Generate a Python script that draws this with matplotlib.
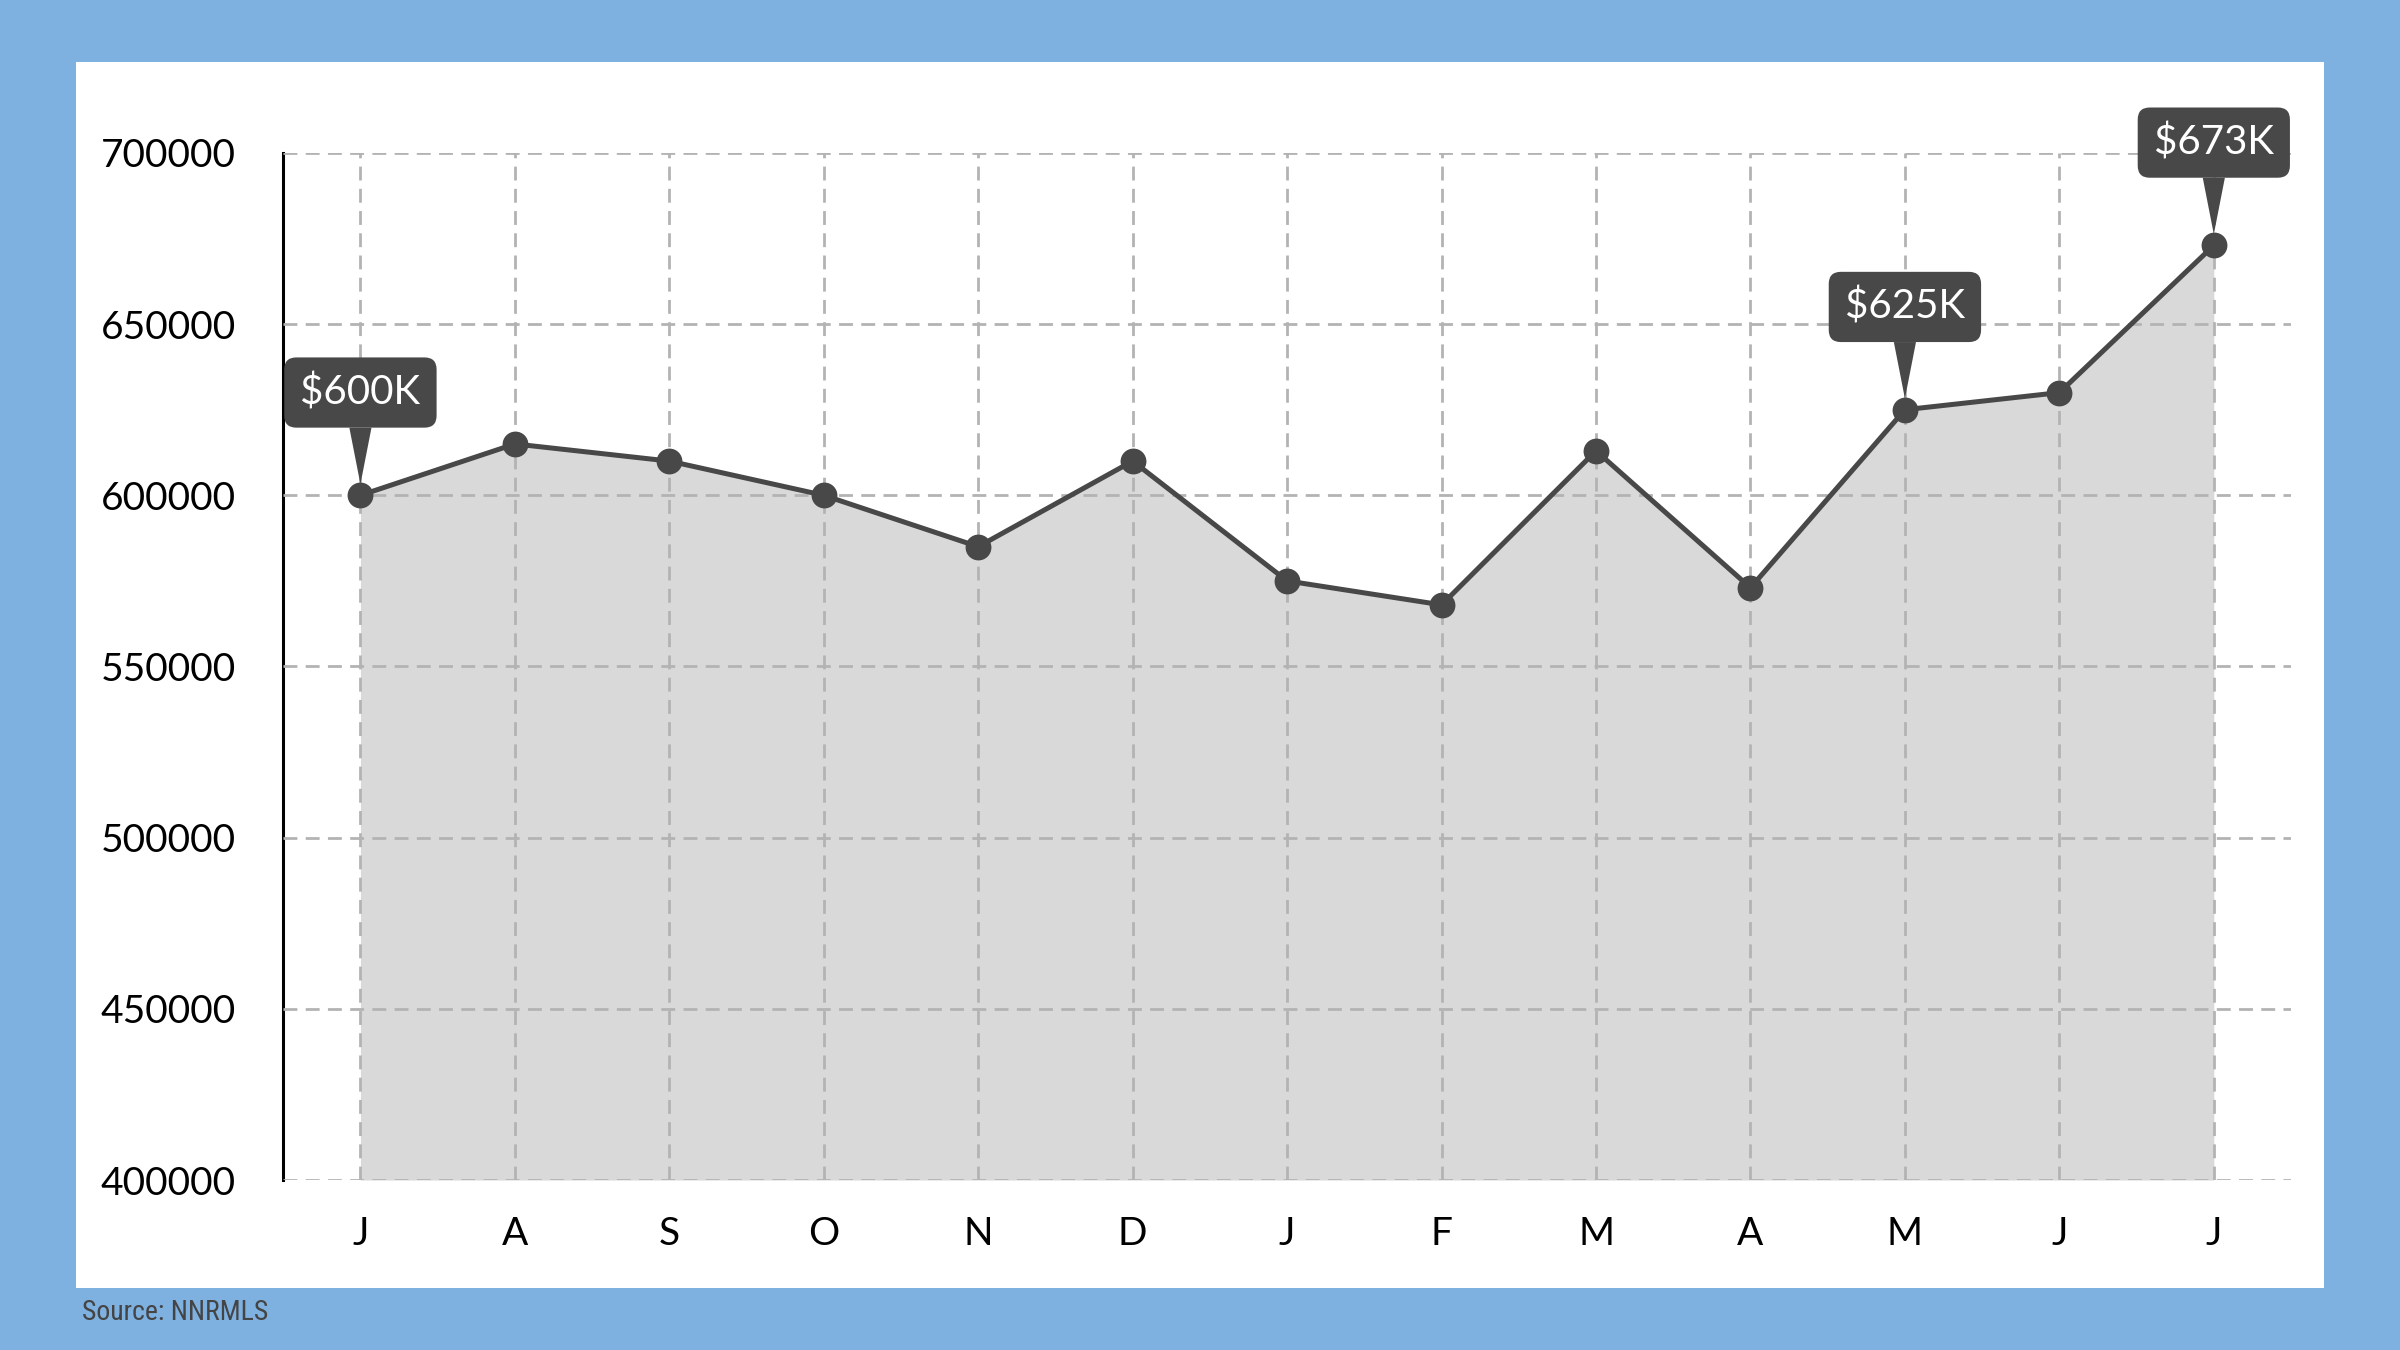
import matplotlib.pyplot as plt
from matplotlib.patches import Rectangle

months = ["J", "A", "S", "O", "N", "D", "J", "F", "M", "A", "M", "J", "J"]
prices = [600000, 615000, 610000, 600000, 585000, 610000, 575000,
          568000, 613000, 573000, 625000, 630000, 673000]
labels = {0: "$600K", 10: "$625K", 12: "$673K"}
yticks = [400000, 450000, 500000, 550000, 600000, 650000, 700000]

dark = "#484848"
plt.rcParams['font.family'] = ['Lato', 'DejaVu Sans']

fig = plt.figure(figsize=(12, 6.75), dpi=200)
fig.patch.set_facecolor("#7eb0e0")
fig.patches.append(Rectangle((0.0317, 0.0459), 0.9365, 0.9081, transform=fig.transFigure,
                             facecolor="white", edgecolor="none", zorder=-5))

ax = fig.add_axes([0.118, 0.1259, 0.8366, 0.7608])
ax.set_facecolor("none")
x = range(len(prices))

ax.fill_between(x, 400000, prices, color="#d9d9d9", lw=0, zorder=1)
ax.plot(x, prices, color=dark, lw=1.8, marker="o", ms=8.3, zorder=3)

ax.set_xlim(-0.5, 12.5)
ax.set_ylim(400000, 700000)
ax.set_yticks(yticks)
ax.set_xticks(list(x))
ax.set_xticklabels(months)
ax.tick_params(length=0, labelsize=14, colors="black")
ax.tick_params(axis="y", pad=17)
ax.tick_params(axis="x", pad=13)

ax.set_axisbelow(False)
ax.grid(True, color="#b3b3b3", lw=1, dashes=(5, 3))
for s in ["top", "right", "bottom"]:
    ax.spines[s].set_visible(False)
ax.spines["left"].set_color("black")
ax.spines["left"].set_linewidth(1.1)

for i, txt in labels.items():
    ax.annotate(txt, (i, prices[i]), xytext=(0, 37), textcoords="offset points",
                ha="center", va="center", fontsize=14.5, color="white", zorder=5,
                bbox=dict(boxstyle="round,pad=0.4,rounding_size=0.3", fc=dark, ec="none"),
                arrowprops=dict(arrowstyle="wedge,tail_width=0.55", fc=dark, ec="none",
                                shrinkA=0, shrinkB=4))

fig.text(0.034, 0.028, "Source: NNRMLS", fontsize=10, color="#444444",
         family=["Roboto Condensed", "Liberation Sans Narrow", "DejaVu Sans"],
         fontstretch="condensed", va="center")

fig.savefig("out.png", dpi=200, facecolor=fig.get_facecolor())
